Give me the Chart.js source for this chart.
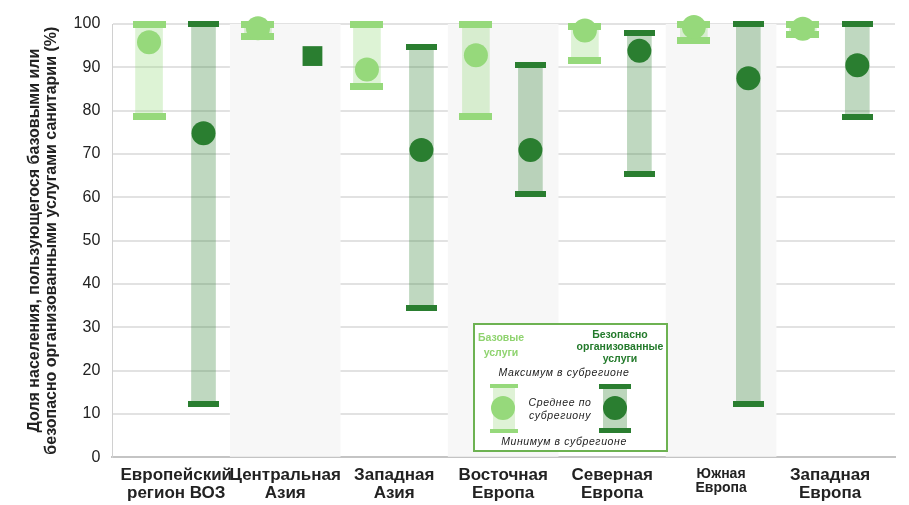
<!DOCTYPE html>
<html>
<head>
<meta charset="utf-8">
<script src="https://cdn.jsdelivr.net/npm/chart.js@4/dist/chart.umd.min.js"></script>
<style>
  html, body { margin: 0; padding: 0; background: #fff; overflow: hidden; }
  #wrap { position: relative; width: 909px; height: 505px; }
  #chart { display: block; }
  #legend {
    position: absolute; left: 473px; top: 323px; width: 195px; height: 129px;
    border: 2px solid #6db252; box-sizing: border-box; background: #fff;
    font-family: "Liberation Sans", Arial, sans-serif; font-size: 10px; color: #222;
  }
  #legend div { position: absolute; }
  .lg-head { font-weight: bold; text-align: center; line-height: 12px; font-size: 10.5px; }
  .lg-it { font-style: italic; text-align: center; line-height: 13px; font-size: 10.5px; letter-spacing: 0.6px; }
</style>
</head>
<body>
<div id="wrap">
  <canvas id="chart"></canvas>
  <div id="legend">
    <div class="lg-head" style="left:-4px;top:5px;width:60px;line-height:15px;color:#8fd36f;">Базовые<br>услуги</div>
    <div class="lg-head" style="left:95px;top:3px;width:100px;color:#237a2b;">Безопасно<br>организованные<br>услуги</div>
    <div class="lg-it" style="top:41px;left:-6px;width:190px;">Максимум в субрегионе</div>
    <div style="left:18px;top:61px;width:22px;height:45px;background:#dff2d6;"></div>
    <div style="left:15px;top:59px;width:28px;height:4px;background:#96d97b;"></div>
    <div style="left:15px;top:104px;width:28px;height:4px;background:#96d97b;"></div>
    <div style="left:16px;top:71px;width:24px;height:24px;border-radius:50%;background:#96d97b;"></div>
    <div style="left:128px;top:61px;width:24px;height:44px;background:#bcd6bc;"></div>
    <div style="left:124px;top:59px;width:32px;height:5px;background:#2a7e30;"></div>
    <div style="left:124px;top:103px;width:32px;height:5px;background:#2a7e30;"></div>
    <div style="left:128px;top:71px;width:24px;height:24px;border-radius:50%;background:#2a7e30;"></div>
    <div class="lg-it" style="top:71px;left:40px;width:90px;">Среднее по<br>субрегиону</div>
    <div class="lg-it" style="top:110px;left:-6px;width:190px;">Минимум в субрегионе</div>
  </div>
</div>
<script>
const categories = [
  ["Европейский", "регион ВОЗ"],
  ["Центральная", "Азия"],
  ["Западная", "Азия"],
  ["Восточная", "Европа"],
  ["Северная", "Европа"],
  ["Южная", "Европа"],
  ["Западная", "Европа"]
];

// базовые услуги
const basicMin  = [78.6, 97, 85.5, 78.6, 91.5, 96.3, 97.5];
const basicMean = [95.8, 99, 89.5, 92.8, 98.5, 99.3, 98.9];
const basicMax  = [100, 100, 100, 100, 99.5, 100, 100];

// безопасно организованные услуги (Центральная Азия - одно значение)
const safeMin  = [12.2, null, 34.4, 60.7, 65.4, 12.2, 78.6];
const safeMean = [74.8, 92.6, 70.9, 70.9, 93.8, 87.5, 90.5];
const safeMax  = [100, null, 94.8, 90.5, 98, 100, 100];

const shaded = [1, 3, 5];
const yTicks = [0, 10, 20, 30, 40, 50, 60, 70, 80, 90, 100];

const lightGreen = "#96d97b";
const darkGreen = "#2a7e30";

function capImage(w, h, color) {
  const c = document.createElement("canvas");
  c.width = w; c.height = h;
  const g = c.getContext("2d");
  g.fillStyle = color;
  g.fillRect(0, 0, w, h);
  return c;
}
const lightCap = capImage(33, 7, lightGreen);
const darkCap = capImage(31, 6, darkGreen);

const bx = (i) => i - 0.25;
const sx = (i) => i + 0.25;
const pts = (arr, fx) => arr.map((v, i) => (v == null ? null : { x: fx(i), y: v })).filter(p => p);

const data = {
  datasets: [
    {
      type: "bar",
      label: "shade",
      data: shaded.map(i => ({ x: i, y: [0, 100] })),
      backgroundColor: "#f7f7f7",
      barThickness: 110,
      grouped: false,
      order: 10
    },
    {
      type: "bar",
      label: "basic range",
      data: basicMin.map((v, i) => ({ x: bx(i), y: [v, basicMax[i]] })),
      backgroundColor: "rgba(150,217,123,0.32)",
      barThickness: 27,
      grouped: false,
      order: 5
    },
    {
      type: "bar",
      label: "safe range",
      data: safeMin.map((v, i) => (v == null ? null : { x: sx(i), y: [v, safeMax[i]] })).filter(p => p),
      backgroundColor: "rgba(42,126,48,0.3)",
      barThickness: 24,
      grouped: false,
      order: 5
    },
    {
      type: "scatter",
      label: "basic caps",
      data: pts(basicMin, bx).concat(pts(basicMax, bx)),
      pointStyle: lightCap,
      order: 2,
      clip: false
    },
    {
      type: "scatter",
      label: "safe caps",
      data: pts(safeMin, sx).concat(pts(safeMax, sx)),
      pointStyle: darkCap,
      order: 2,
      clip: false
    },
    {
      type: "scatter",
      label: "basic mean",
      data: pts(basicMean, bx),
      pointStyle: "circle",
      pointRadius: 12,
      backgroundColor: lightGreen,
      borderWidth: 0,
      order: 1,
      clip: false
    },
    {
      type: "scatter",
      label: "safe mean",
      data: pts(safeMean, sx),
      pointStyle: safeMean.map((v, i) => (safeMin[i] == null ? "rect" : "circle")),
      pointRadius: safeMean.map((v, i) => (safeMin[i] == null ? 14 : 12)),
      backgroundColor: darkGreen,
      borderWidth: 0,
      order: 1,
      clip: false
    }
  ]
};

const config = {
  type: "bar",
  data: data,
  options: {
    responsive: true,
    maintainAspectRatio: false,
    animation: false,
    layout: { padding: { left: 26, right: 6, top: 24, bottom: -6 } },
    plugins: { legend: { display: false }, tooltip: { enabled: false } },
    scales: {
      x: {
        type: "linear",
        offset: false,
        min: -0.587,
        max: 6.596,
        afterBuildTicks: (scale) => { scale.ticks = categories.map((c, i) => ({ value: i })); },
        ticks: {
          autoSkip: false,
          maxRotation: 0,
          padding: 9,
          color: "#222",
          font: (ctx) => ({
            family: "Liberation Sans",
            size: ctx.index === 5 ? 14 : 17,
            weight: "bold",
            lineHeight: 1.05
          }),
          callback: (v) => categories[v] || ""
        },
        grid: { display: false, drawTicks: false },
        border: { display: true, color: "#c4c4c4", width: 2 }
      },
      y: {
        min: 0,
        max: 100,
        afterBuildTicks: (scale) => { scale.ticks = yTicks.map(v => ({ value: v })); },
        ticks: {
          padding: 12,
          color: "#222",
          font: { family: "Liberation Sans", size: 16 }
        },
        grid: { color: "#e2e2e2", lineWidth: 2, drawTicks: false },
        border: { display: true, color: "#d0d0d0", width: 1 },
        title: {
          display: true,
          text: ["Доля населения, пользующегося базовыми или", "безопасно организованными услугами санитарии (%)"],
          color: "#222",
          font: { family: "Liberation Sans", size: 16, weight: "bold", lineHeight: 1.05 },
          padding: { top: 0, bottom: 2 }
        }
      }
    }
  }
};

const canvas = document.getElementById("chart");
const chart = new Chart(canvas, config);
</script>
</body>
</html>
